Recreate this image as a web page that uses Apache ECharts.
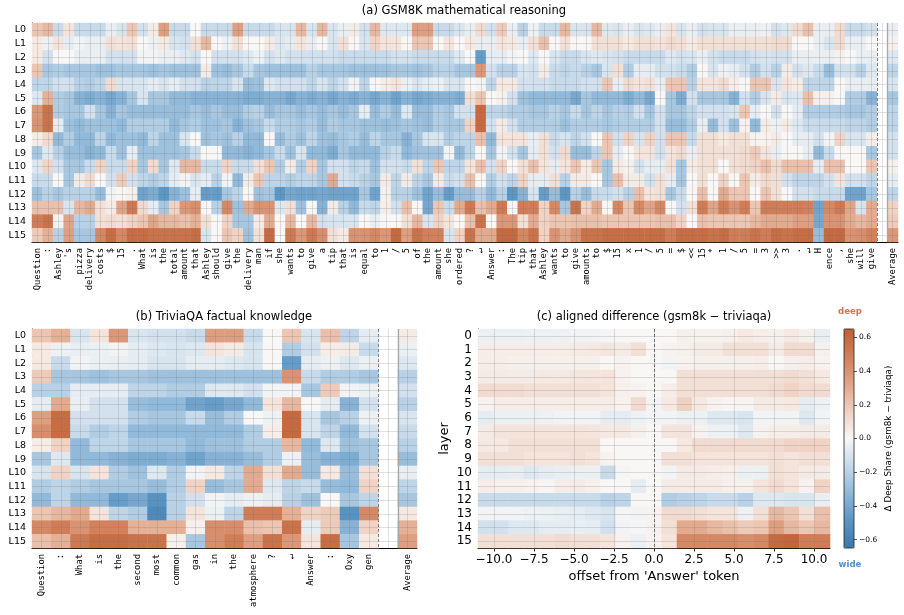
<!DOCTYPE html>
<html>
<head>
<meta charset="utf-8">
<script src="https://cdn.jsdelivr.net/npm/echarts@6/dist/echarts.min.js"></script>
<style>
html, body { margin: 0; padding: 0; background: #fff; }
#chart { width: 904px; height: 615px; }
</style>
</head>
<body>
<div id="chart"></div>
<script>
// tokens of the two prompts
var gsmTokens = ['Question', ':', 'Ashley', "'s", 'pizza', 'delivery', 'costs', '$', '15', '.',
  'What', 'is', 'the', 'total', 'amount', 'that', 'Ashley', 'should', 'give', 'the',
  'delivery', 'man', 'if', 'she', 'wants', 'to', 'give', 'a', 'tip', 'that',
  'is', 'equal', 'to', '1', '/', '5', 'of', 'the', 'amount', 'she',
  'ordered', '?', '\u21b5', 'Answer', ':', 'The', 'tip', 'that', 'Ashley', 'wants',
  'to', 'give', 'amounts', 'to', '$', '15', 'x', '1', '/', '5',
  '=', '$', '<<', '15', '*', '1', '/', '5', '=', '3',
  '>>', '3', '.', '\u21b5', 'H', 'ence', ',', 'she', 'will', 'give'];
var triviaTokens = ['Question', ':', 'What', 'is', 'the', 'second', 'most', 'common', 'gas', 'in',
  'the', 'atmosphere', '?', '\u21b5', 'Answer', ':', 'Oxy', 'gen'];
var layerNames = ['L0', 'L1', 'L2', 'L3', 'L4', 'L5', 'L6', 'L7', 'L8', 'L9', 'L10', 'L11', 'L12', 'L13', 'L14', 'L15'];
var layerNums = ['0', '1', '2', '3', '4', '5', '6', '7', '8', '9', '10', '11', '12', '13', '14', '15'];
var offsets = [-11, -10, -9, -8, -7, -6, -5, -4, -3, -2, -1, 0, 1, 2, 3, 4, 5, 6, 7, 8, 9, 10, 11];
var offsetTicks = [-10, -7.5, -5, -2.5, 0, 2.5, 5, 7.5, 10];
var colorbarTicks = [-0.6, -0.4, -0.2, 0, 0.2, 0.4, 0.6];

// (a) deep share per layer x token, GSM8K
var gsmShare = [
  [.2,.25,-.15,.08,-.15,-.15,-.15,-.05,-.1,.2, -.12,.05,.35,-.15,-.15,0,-.15,-.15,-.15,.35, -.15,-.15,-.15,-.1,-.1,.25,-.1,.25,-.1,-.05, .05,-.12,.25,-.08,-.08,-.08,.35,.35,-.15,-.15, -.1,-.05,.12,-.12,.18,-.05,-.2,-.03,-.15,-.15, .25,-.1,-.1,.25,-.08,-.1,-.05,-.1,-.08,-.05, .08,-.1,-.05,-.12,-.1,-.1,-.05,-.05,-.05,-.03, -.12,-.08,.12,.22,-.05,-.05,.12,-.15,-.15,-.12],
  [.06,-.03,.08,-.06,-.02,-.05,-.05,.1,.08,.1, 0,-.03,.06,-.1,-.12,.1,.25,0,-.03,.1, 0,0,.05,-.08,-.06,.08,-.05,0,-.1,.1, 0,-.1,.15,.08,.08,0,.2,.2,0,.08, 0,.06,-.05,-.05,.08,.06,-.05,.1,.22,0, .1,0,0,.1,.1,.1,.06,.1,.1,.08, .12,.1,.05,.1,.1,.1,.1,.1,.1,.1, .12,.12,0,0,-.05,-.1,.12,-.05,-.05,0],
  [.06,-.12,0,0,-.05,-.05,-.05,-.12,-.12,-.12, -.02,-.02,-.05,-.05,-.08,-.12,0,-.12,-.12,-.12, -.08,-.03,-.12,-.08,-.12,-.12,-.12,-.12,-.12,-.15, -.15,-.15,-.15,-.15,-.12,-.12,-.15,-.15,-.15,-.15, -.08,0,-.45,-.06,-.06,-.02,0,-.08,0,-.1, -.15,-.15,-.1,-.08,-.1,-.12,-.15,-.15,-.15,-.15, -.08,-.12,-.1,-.05,-.12,-.15,-.15,-.15,-.12,-.1, -.12,-.12,-.05,-.05,-.05,-.05,.03,0,-.05,-.05],
  [.2,-.25,-.22,-.25,-.25,-.25,-.28,-.28,-.25,-.25, -.25,-.28,-.25,-.28,-.28,-.28,.05,-.28,-.3,-.25, -.15,-.25,-.28,-.28,-.28,-.28,-.2,-.25,-.25,-.25, -.28,-.28,-.28,-.28,-.25,-.25,-.28,-.25,-.2,-.2, -.25,-.25,.38,-.12,-.2,-.2,-.1,-.12,.05,-.15, -.18,-.15,-.2,-.25,-.1,.1,-.22,-.06,-.06,-.12, -.12,-.15,-.22,0,-.1,-.03,-.06,-.12,-.22,-.12, -.2,.05,-.12,-.08,-.15,-.3,-.12,-.12,-.2,-.08],
  [-.18,-.18,-.12,-.12,-.2,-.22,-.18,.12,-.1,-.1, -.1,-.06,-.1,-.06,-.12,-.12,-.2,-.18,-.18,-.1, -.3,-.28,-.08,-.12,-.12,-.12,-.18,-.1,-.18,-.12, -.02,-.18,0,.04,.08,-.04,-.1,-.06,-.03,-.1, -.1,0,-.02,-.18,.06,.06,-.12,-.12,-.12,-.15, -.15,-.15,-.12,-.12,.2,-.05,.12,.08,.1,-.05, .2,.2,-.2,.08,.08,.12,.04,0,.2,.2, -.1,.08,.04,-.18,-.18,-.18,0,-.05,-.05,-.05],
  [-.08,.28,-.22,-.25,-.35,-.38,-.35,-.4,-.35,-.25, -.1,-.25,-.25,-.32,-.32,-.35,-.35,-.35,-.35,-.35, -.38,-.38,-.35,-.35,-.4,-.35,-.38,-.35,-.4,-.35, -.38,-.35,-.4,-.35,-.42,-.35,-.4,-.38,-.35,-.35, -.38,.1,.2,0,.03,-.12,-.28,-.32,-.32,-.32, -.32,-.4,-.25,-.32,-.32,-.32,-.38,-.32,-.4,0, -.25,-.38,-.12,-.25,-.25,-.25,-.35,-.12,-.22,-.1, .05,-.1,-.08,.22,.03,.03,0,-.22,-.22,-.35],
  [.38,.55,-.22,-.25,-.25,-.12,-.25,-.35,-.25,-.3, -.3,-.3,-.3,-.3,-.3,-.25,-.3,-.25,-.3,-.3, -.22,-.2,-.3,-.25,-.25,-.3,-.25,-.3,-.25,-.3, -.25,-.06,-.3,-.22,-.3,-.08,-.3,-.3,-.22,-.25, -.12,-.12,.6,-.18,-.18,-.22,-.22,-.25,-.25,-.2, -.25,-.15,-.25,-.18,-.25,-.2,-.22,-.12,-.25,-.12, -.25,-.25,-.18,-.12,-.12,-.12,-.1,.2,-.06,0, -.12,0,-.06,-.22,-.22,-.22,-.22,-.25,-.25,-.22],
  [.4,.55,-.06,-.28,-.32,-.28,-.28,-.28,-.32,-.22, -.22,-.22,-.22,-.32,-.25,-.22,-.28,-.28,-.25,-.35, -.28,-.25,-.15,-.22,-.22,-.25,-.22,-.3,-.22,-.25, -.25,-.28,-.28,-.3,-.28,-.25,-.28,-.3,-.22,-.25, -.25,.15,.6,-.12,.05,-.12,-.22,-.22,-.22,-.22, -.28,-.22,-.22,-.22,-.25,-.22,-.22,-.22,-.22,-.12, -.3,-.3,-.22,-.05,-.3,-.12,-.28,.02,-.32,.05, -.03,.05,-.08,-.15,-.15,-.15,-.15,-.18,-.18,-.22],
  [.04,.12,-.32,-.22,-.32,-.32,-.18,-.32,-.28,-.28, -.32,-.18,-.28,-.28,-.1,0,-.28,-.25,-.28,-.2, -.32,-.32,0,-.3,-.22,-.28,-.18,-.28,-.3,-.25, -.22,-.3,-.18,-.25,-.25,-.35,-.25,-.1,-.1,-.22, -.18,-.18,.22,-.32,.08,.08,.08,-.05,.1,-.15, -.1,-.18,-.12,0,.2,-.12,.15,-.1,.15,-.12, .2,.2,-.15,.1,.1,.06,.1,.1,.02,.02, .05,0,-.06,-.06,-.12,-.02,.15,-.1,-.1,.04],
  [-.25,-.08,-.2,-.3,-.3,-.35,-.32,-.15,-.28,-.06, -.28,-.28,-.28,-.28,-.25,-.15,0,0,-.32,-.32, -.35,-.32,-.25,-.15,-.28,-.1,-.32,-.32,-.38,-.25, -.32,-.32,-.32,-.2,-.15,-.32,-.28,-.28,-.28,-.02, -.32,-.18,0,-.25,-.02,-.12,-.25,-.06,.1,-.12, .12,-.3,-.3,-.18,.2,-.06,0,.08,.08,-.12, .08,.12,-.05,.1,.1,.1,.1,.12,.18,.08, -.05,0,0,-.05,-.32,-.15,0,0,0,-.25],
  [-.08,.15,-.12,-.25,-.25,-.15,.15,-.15,-.15,.15, -.25,.12,-.25,-.08,.25,.25,-.15,-.15,.15,-.15, -.15,.1,.2,-.22,.05,-.22,.15,-.25,-.12,-.12, -.18,-.15,-.28,-.12,-.12,-.15,.1,-.18,.2,-.18, -.18,.08,.22,-.12,.15,0,.1,.22,.08,-.06, .08,.2,.05,.2,-.25,.05,.03,-.12,-.06,-.06, .1,-.25,.05,.1,.1,0,.1,.12,.15,.22, .12,.22,.22,.22,-.06,.22,.22,0,0,.2],
  [-.15,-.15,0,-.25,.05,.12,0,-.12,.18,-.12, -.18,-.22,-.18,-.06,-.02,-.1,-.06,-.2,-.02,-.32, .05,.2,-.18,-.18,-.22,-.18,-.18,-.25,.3,-.12, -.15,-.2,-.25,.05,-.18,.05,-.18,-.25,.05,-.15, -.12,.22,0,-.22,-.12,-.18,.15,-.06,-.06,.1, -.2,.05,.05,0,-.25,.22,.05,.05,-.12,.1, -.06,-.25,0,.1,0,.15,0,.2,.05,.12, .1,-.12,-.18,-.18,-.18,-.12,.08,-.12,-.12,-.18],
  [-.28,-.2,-.25,-.2,-.2,-.2,-.3,-.02,0,.03, -.42,-.38,-.48,-.35,-.28,-.06,-.45,-.45,-.25,-.18, 0,-.28,-.25,-.48,-.4,-.42,-.42,-.4,-.42,-.42, -.42,-.25,-.42,.03,-.2,-.2,-.28,-.42,-.3,-.45, -.3,-.3,-.2,-.32,-.2,-.48,-.35,-.1,-.45,-.3, -.48,-.2,-.3,-.15,-.15,-.12,-.2,.22,.08,.1, -.25,-.15,0,.22,0,.3,.2,.2,0,.2, .1,0,-.12,-.12,-.15,-.15,-.15,-.42,-.42,-.25],
  [.22,.22,.22,-.1,.25,.3,.1,.05,.32,.52, .12,-.06,-.25,.15,.38,.42,0,-.2,.45,-.28, .3,.4,.4,-.08,.1,-.28,0,-.35,.05,-.2, -.32,-.15,-.18,.04,-.12,.22,0,-.4,.2,-.15, .3,.52,.22,.3,.52,0,.5,.5,.15,.45, -.25,.55,.15,.3,0,.45,.2,.45,.32,.45, 0,-.12,.1,.5,.32,.5,.4,.5,.2,.5, .5,.5,.5,.48,-.42,.45,.52,.32,-.1,.3],
  [.5,.55,-.02,.32,-.2,-.2,.1,.12,.1,.15, .2,.32,.25,.25,.22,.28,.1,0,.15,-.25, -.25,.05,.3,0,.25,0,.25,-.12,-.1,-.1, -.1,0,-.05,0,0,.1,.25,-.1,.15,.08, 0,.22,.55,0,.38,.38,.1,.3,.15,.2, .2,.22,.22,.22,.2,.2,.2,.2,.2,.22, .22,.15,0,.22,.2,.2,.2,.2,.25,.3, .3,.3,.35,.35,-.4,.4,.4,.3,.25,.3],
  [.18,.28,-.2,.35,-.25,-.25,.45,.58,.45,.58, .58,.55,.55,.55,.55,.58,-.1,0,.2,.15, -.28,.1,.6,0,.52,.38,.52,.42,.1,.05, .4,.4,.45,.38,.6,.35,.55,.48,.48,-.1, .15,.55,.3,.3,.6,.6,.45,.55,.15,.4, .3,.4,.55,.55,.58,.58,.58,.58,.58,.58, .5,.58,.58,.58,.55,.58,.5,.5,.55,.5, .58,.55,.58,.58,-.3,.6,.6,.4,.42,.48]
];
var gsmAverage = [-.05,.03,-.08,-.18,-.1,-.25,-.18,-.18,-.12,-.12,.03,-.06,-.18,.15,.18,.38];

// (b) deep share per layer x token, TriviaQA
var triviaShare = [
  [.2,.28,-.1,.08,.38,-.1,-.12,-.12,-.15,.35,.35,-.15,0,.2,-.1,.22,-.18,-.06],
  [.06,-.03,-.05,-.04,-.02,-.06,-.08,-.1,-.08,.08,.05,-.1,0,-.22,-.12,.04,.05,-.15],
  [.06,-.15,-.02,-.04,-.05,-.06,-.1,-.1,-.06,-.06,-.08,-.1,0,-.45,-.06,-.03,-.08,-.04],
  [.18,-.25,-.25,-.28,-.25,-.25,-.28,-.28,-.28,-.28,-.28,-.28,-.28,.4,-.15,-.22,-.22,-.25],
  [-.2,-.2,-.06,-.06,-.06,-.18,-.18,-.22,-.22,-.08,-.08,-.12,-.02,-.02,-.25,.18,-.02,-.04],
  [-.06,.3,-.05,-.12,-.12,-.3,-.32,-.32,-.42,-.45,-.4,-.32,.08,.25,0,-.06,-.35,-.12],
  [.35,.58,-.12,-.12,-.12,-.22,-.25,-.25,-.15,-.3,-.22,0,-.03,.6,-.1,-.25,-.2,-.03],
  [.42,.58,-.15,-.22,-.18,-.32,-.32,-.32,-.32,-.32,-.32,-.22,.04,.6,-.1,-.18,-.32,-.12],
  [.04,.15,-.32,-.18,-.18,-.25,-.25,-.25,-.32,-.28,-.28,-.22,-.22,.25,-.32,-.08,-.28,-.25],
  [-.25,-.08,-.32,-.32,-.35,-.38,-.38,-.35,-.42,-.35,-.35,-.3,-.22,-.03,-.3,-.35,-.38,-.25],
  [-.1,.15,-.1,.08,-.22,-.28,-.08,-.22,-.02,.06,-.18,.3,.1,.3,-.3,.06,-.3,.1],
  [-.22,-.18,-.22,-.25,-.25,-.25,-.3,-.22,.15,-.3,-.25,.3,-.08,-.18,-.15,-.3,-.32,.15],
  [-.32,-.18,-.32,-.32,-.45,-.4,-.5,-.2,-.12,-.02,-.06,-.03,-.06,-.2,-.28,0,-.25,-.18],
  [.2,.25,.3,.08,-.18,-.22,-.55,-.2,.08,-.04,-.18,.5,.5,.28,.15,.18,-.5,.45],
  [.45,.5,.4,.48,.48,.28,.28,.28,.03,.42,.42,.22,.2,.55,-.06,.18,-.35,.15],
  [.22,.28,.52,.58,.58,.55,.55,.03,-.25,.42,.5,.35,.55,.38,.08,.58,-.25,.06]
];
var triviaAverage = [.05,-.04,-.08,-.2,-.12,-.2,-.1,-.15,-.2,-.3,-.05,-.18,-.25,.06,.28,.35];

// (c) gsm8k - triviaqa, aligned on the 'Answer' token (offsets -11..11)
var diffShare = [
  [-.04,-.04,-.04,-.03,-.03,-.03,-.02,-.02,-.01,0,0,0,0,.03,.02,.02,.03,.06,.04,.03,.06,.03,-.05],
  [.04,.04,.04,.04,.04,.04,.05,.06,.07,.05,.1,0,.02,.03,.05,.05,.1,.1,.1,.05,.12,.12,.03],
  [.04,.04,.03,.03,.03,.03,.03,.03,0,.02,0,0,-.02,.02,.03,.03,.03,.03,.04,0,.03,.04,.02],
  [.05,.05,.05,.05,.06,.06,.07,.07,.08,.02,0,0,0,.1,.1,.1,.1,.1,.1,.1,.12,.1,.06],
  [.12,.12,.12,.1,.1,.1,.1,.1,.08,.03,.02,0,.04,.1,.1,.1,.1,.1,.1,.12,.15,.12,.12],
  [.02,.04,.04,.04,.04,.04,.04,.04,.04,.02,.12,-.02,.06,.16,.06,.02,.01,.01,.05,.05,.06,-.06,-.03],
  [-.06,-.04,-.04,-.04,-.03,-.02,-.02,-.02,-.06,-.06,-.03,-.02,-.02,-.04,-.04,-.08,-.08,-.1,-.02,-.02,-.02,-.08,-.02],
  [.05,.08,.08,.08,.08,.08,.08,.07,.06,.06,.03,0,.08,.08,.02,-.03,-.03,-.08,.02,.04,.04,.05,.05],
  [.06,.06,.1,.1,.1,.1,.1,.1,0,0,0,0,0,.06,.12,.12,.12,.12,.12,.12,.15,.15,.15],
  [.1,.1,.1,.08,.08,.08,.1,.08,.02,0,0,0,.1,.1,.08,.08,.08,.08,.08,.1,.08,.1,.1],
  [-.06,-.06,-.05,-.08,-.06,-.05,-.04,-.04,-.15,-.01,0,0,-.02,.05,.05,.04,.03,-.04,-.04,.1,.08,.05,.05],
  [.04,.03,.03,.02,.01,.04,.05,.03,0,0,-.06,0,.05,.05,.05,.05,.03,.03,.08,.12,.08,.02,.15],
  [-.15,-.15,-.15,-.15,-.15,-.15,-.15,-.15,-.2,-.18,0,0,-.22,-.2,-.18,-.15,-.15,-.2,-.08,-.08,-.1,-.1,-.05],
  [-.02,-.02,-.02,-.03,-.04,-.05,-.06,-.08,-.1,-.01,-.02,.02,.12,.12,.1,.08,.08,-.03,.1,.25,.2,.1,.22],
  [-.12,-.12,-.08,-.08,-.06,-.06,-.05,-.06,-.12,-.02,-.01,.02,.1,.3,.3,.25,.22,.18,.2,.35,.25,.2,.25],
  [.1,.1,.1,.1,.1,.12,.1,.1,.08,.02,-.04,.02,.08,.45,.45,.45,.45,.42,.45,.6,.62,.5,.5]
];

var SANS = 'DejaVu Sans', MONO = 'DejaVu Sans Mono';
var GRID_LINE = 'rgba(115,115,115,0.28)';

function cells(rows, extra, extraCol) {
  var out = [];
  rows.forEach(function (row, r) {
    row.forEach(function (v, c) { out.push([c, r, v]); });
  });
  if (extra) extra.forEach(function (v, r) { out.push([extraCol, r, v]); });
  return out;
}

function minus(v, d) {
  return (v < 0 ? '\u2212' : '') + Math.abs(v).toFixed(d);
}

// vertical / horizontal rule across a grid, given in that grid's value axes
function vline(x, y0, y1) { return [{ coord: [x, y0] }, { coord: [x, y1] }]; }
function hline(y, x0, x1) { return [{ coord: [x0, y] }, { coord: [x1, y] }]; }

// faint grid through the cell centres
function tokenGrid(nCols, nRows) {
  var marks = [];
  for (var i = 0; i < nCols; i++) marks.push(vline(i, -0.5, nRows - 0.5));
  for (var j = 0; j < nRows; j++) marks.push(hline(j, -0.5, nCols - 0.5));
  return marks;
}

function decor(xi, yi, marks, style) {
  return {
    type: 'scatter', xAxisIndex: xi, yAxisIndex: yi, data: [], silent: true, z: 5,
    markLine: {
      silent: true, symbol: ['none', 'none'], label: { show: false }, animation: false,
      lineStyle: style || { color: GRID_LINE, width: 0.8, type: 'solid' },
      data: marks
    }
  };
}

var SPINE = { onZero: false, lineStyle: { color: '#000', width: 1 } };

function tokenAxis(gi, names) {
  return {
    type: 'category', gridIndex: gi, position: 'bottom', data: names,
    axisLine: SPINE,
    axisTick: { alignWithLabel: true, length: 3.5, lineStyle: { color: '#000', width: 0.8 } },
    axisLabel: { interval: 0, rotate: 90, fontFamily: MONO, fontSize: 8.8, color: '#000', margin: 6 },
    splitLine: { show: false }
  };
}

function layerAxis(gi, names, size) {
  return {
    type: 'category', gridIndex: gi, position: 'left', inverse: true, data: names,
    axisLine: SPINE,
    axisTick: { alignWithLabel: true, length: 3.5, lineStyle: { color: '#000', width: 0.8 } },
    axisLabel: { interval: 0, fontFamily: SANS, fontSize: size, color: '#000', margin: 6 },
    splitLine: { show: false }
  };
}

function hiddenValue(gi, min, max, pos, inverse) {
  return { type: 'value', gridIndex: gi, position: pos, min: min, max: max, inverse: !!inverse,
    show: false, axisLine: { onZero: false } };
}

var gsmCats = gsmTokens.concat(['', 'Average']);
var triviaCats = triviaTokens.concat(['', 'Average']);
var nA = gsmCats.length, nB = triviaCats.length;

var diffMarks = [];
offsetTicks.forEach(function (t) { diffMarks.push(vline(t, -0.5, 15.5)); });
layerNums.forEach(function (l, j) { diffMarks.push(hline(j, -11, 11)); });

var DASHED = { color: '#808080', width: 1, type: [3, 2] };
var SOLID = { color: '#a8a8a8', width: 1.3, type: 'solid' };

function titleText(text, x, y, size, extra) {
  return {
    text: text, left: x, top: y, textAlign: 'center', padding: 0,
    textStyle: Object.assign({ fontFamily: SANS, fontSize: size, fontWeight: 'normal', color: '#000' }, extra || {})
  };
}

var chart = echarts.init(document.getElementById('chart'));
chart.setOption({
  animation: false,
  backgroundColor: '#fff',
  title: [
    titleText('(a) GSM8K mathematical reasoning', 464, 5, 11.5),
    titleText('(b) TriviaQA factual knowledge', 224, 311, 11.5),
    titleText('(c) aligned difference (gsm8k \u2212 triviaqa)', 654, 311, 11.5),
    titleText('deep', 850, 307, 8.6, { fontWeight: 'bold', color: '#d07650' }),
    titleText('wide', 850, 560, 8.6, { fontWeight: 'bold', color: '#4f8fc8' })
  ],
  grid: [
    { left: 32, top: 23, width: 866, height: 219 },
    { left: 32, top: 329, width: 385, height: 219 },
    { left: 478, top: 329, width: 352, height: 219 },
    { left: 844, top: 329, width: 10, height: 219, show: true, borderColor: '#222', borderWidth: 0.8, z: 10 }
  ],
  xAxis: [
    tokenAxis(0, gsmCats),
    hiddenValue(0, -0.5, nA - 0.5, 'bottom'),
    tokenAxis(1, triviaCats),
    hiddenValue(1, -0.5, nB - 0.5, 'bottom'),
    { type: 'category', gridIndex: 2, position: 'bottom', data: offsets, show: false, axisLine: { onZero: false } },
    {
      type: 'value', gridIndex: 2, position: 'bottom', min: -11, max: 11,
      name: "offset from 'Answer' token", nameLocation: 'middle', nameGap: 22,
      nameTextStyle: { fontFamily: SANS, fontSize: 13, color: '#000' },
      axisLine: SPINE,
      axisTick: { show: true, customValues: offsetTicks, length: 3.5, lineStyle: { color: '#000', width: 0.8 } },
      axisLabel: { customValues: offsetTicks, fontFamily: SANS, fontSize: 12, color: '#000', margin: 6,
        formatter: function (v) { return minus(v, 1); } },
      splitLine: { show: false }
    },
    { type: 'value', gridIndex: 3, position: 'bottom', show: false, min: 0, max: 1, axisLine: { onZero: false } }
  ],
  yAxis: [
    layerAxis(0, layerNames, 9.5),
    hiddenValue(0, -0.5, 15.5, 'left', true),
    layerAxis(1, layerNames, 9.5),
    hiddenValue(1, -0.5, 15.5, 'left', true),
    Object.assign(layerAxis(2, layerNums, 12), {
      name: 'layer', nameLocation: 'middle', nameGap: 27, nameRotate: 90,
      nameTextStyle: { fontFamily: SANS, fontSize: 13, color: '#000' }
    }),
    hiddenValue(2, -0.5, 15.5, 'left', true),
    {
      type: 'value', gridIndex: 3, position: 'right', min: -0.65, max: 0.65,
      name: '\u0394 Deep Share (gsm8k \u2212 triviaqa)', nameLocation: 'middle', nameGap: 30, nameRotate: 90,
      nameTextStyle: { fontFamily: SANS, fontSize: 8.8, color: '#000' },
      axisLine: { show: false, onZero: false },
      axisTick: { show: true, customValues: colorbarTicks, length: 3, lineStyle: { color: '#222', width: 0.8 } },
      axisLabel: { customValues: colorbarTicks, fontFamily: SANS, fontSize: 7.5, color: '#000', margin: 5,
        formatter: function (v) { return minus(v, 1); } },
      splitLine: { show: false }
    }
  ],
  visualMap: {
    type: 'continuous', seriesIndex: [0, 1, 2], min: -0.65, max: 0.65,
    calculable: false, hoverLink: false, orient: 'vertical',
    left: 844, top: 329, itemWidth: 10, itemHeight: 219, padding: 0, text: null,
    inRange: { color: ['#3a78ad', '#5a94c3', '#8fb8d8', '#c4d9ea', '#f8f7f6', '#efd0c1', '#e0a486', '#d17f5a', '#c05f34'] }
  },
  series: [
    { type: 'heatmap', xAxisIndex: 0, yAxisIndex: 0, data: cells(gsmShare, gsmAverage, nA - 1), emphasis: { disabled: true } },
    { type: 'heatmap', xAxisIndex: 2, yAxisIndex: 2, data: cells(triviaShare, triviaAverage, nB - 1), emphasis: { disabled: true } },
    { type: 'heatmap', xAxisIndex: 4, yAxisIndex: 4, data: cells(diffShare), emphasis: { disabled: true } },
    decor(1, 1, tokenGrid(nA, layerNames.length)),
    decor(3, 3, tokenGrid(nB, layerNames.length)),
    decor(5, 5, diffMarks),
    decor(1, 1, [vline(nA - 2.5, -0.5, 15.5)], DASHED),
    decor(1, 1, [vline(nA - 1.5, -0.5, 15.5)], SOLID),
    decor(3, 3, [vline(nB - 2.5, -0.5, 15.5)], DASHED),
    decor(3, 3, [vline(nB - 1.5, -0.5, 15.5)], SOLID),
    decor(5, 5, [vline(0, -0.5, 15.5)], { color: '#555', width: 0.8, type: [3, 2] })
  ]
});
</script>
</body>
</html>
